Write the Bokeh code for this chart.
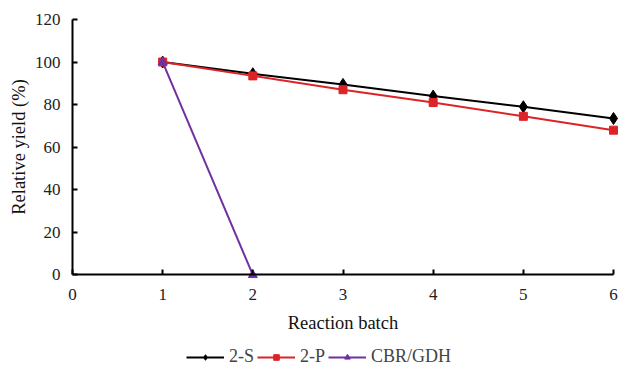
from bokeh.plotting import figure
from bokeh.models import Range1d, Legend, LegendItem, FixedTicker
from bokeh.embed import file_html
from bokeh.resources import INLINE

batch = [1, 2, 3, 4, 5, 6]
s2 = [100, 94.5, 89.5, 84, 79, 73.5]
p2 = [100, 93.5, 87, 81, 74.5, 68]
cbr_x = [1, 2]
cbr = [100, 0]
x_ticks = [0, 1, 2, 3, 4, 5, 6]
y_ticks = [0, 20, 40, 60, 80, 100, 120]

FONT = "Liberation Serif"

p = figure(width=619, height=367, output_backend="svg", toolbar_location=None,
           x_range=Range1d(-0.7985, 6.0665), y_range=Range1d(-43.45, 128.9),
           min_border_left=0, min_border_right=0, min_border_top=0, min_border_bottom=0)
p.outline_line_color = None
p.grid.visible = False
p.background_fill_color = "white"

for ax in (p.xaxis[0], p.yaxis[0]):
    ax.axis_line_width = 2
    ax.major_tick_line_width = 2
    ax.major_tick_in = 5
    ax.major_tick_out = 0
    ax.minor_tick_line_color = None
    ax.major_label_text_font = FONT
    ax.major_label_text_font_size = "17px"
    ax.major_label_text_color = "#222222"
    ax.axis_label_text_font = FONT
    ax.axis_label_text_font_size = "18.5px"
    ax.axis_label_text_font_style = "normal"
    ax.axis_label_text_color = "#111111"

p.xaxis.ticker = FixedTicker(ticks=x_ticks)
p.yaxis.ticker = FixedTicker(ticks=y_ticks)
p.xaxis.fixed_location = 0
p.yaxis.fixed_location = 0
p.xaxis.bounds = (0, 6)
p.yaxis.bounds = (0, 120)
p.xaxis.axis_label = "Reaction batch"
p.yaxis.axis_label = "Relative yield (%)"
p.xaxis.major_label_standoff = 14
p.yaxis.major_label_standoff = 12
p.xaxis.axis_label_standoff = 10
p.yaxis.axis_label_standoff = 3

red = "#DC2428"
purple = "#7030A0"

l1 = p.line(batch, s2, line_color="black", line_width=2)
m1 = p.scatter(batch, s2, marker="diamond", size=12, fill_color="black", line_color="black")
l2 = p.line(batch, p2, line_color=red, line_width=2)
m2 = p.scatter(batch, p2, marker="square", size=8, fill_color=red, line_color=red)
l3 = p.line(cbr_x, cbr, line_color=purple, line_width=2)
m3 = p.scatter(cbr_x, cbr, marker="triangle", size=9, fill_color=purple, line_color=purple)

legend = Legend(items=[
    LegendItem(label="2-S", renderers=[l1, m1]),
    LegendItem(label="2-P", renderers=[l2, m2]),
    LegendItem(label="CBR/GDH", renderers=[l3, m3]),
], orientation="horizontal", location=(186, 0))
legend.label_text_font = FONT
legend.label_text_font_size = "18px"
legend.border_line_color = None
legend.background_fill_alpha = 0
legend.glyph_width = 38
legend.glyph_height = 14
legend.label_height = 14
legend.spacing = 3
legend.label_standoff = 5
legend.margin = 0
legend.padding = 0
p.add_layout(legend)

open("out.html", "w").write(file_html(p, INLINE))
